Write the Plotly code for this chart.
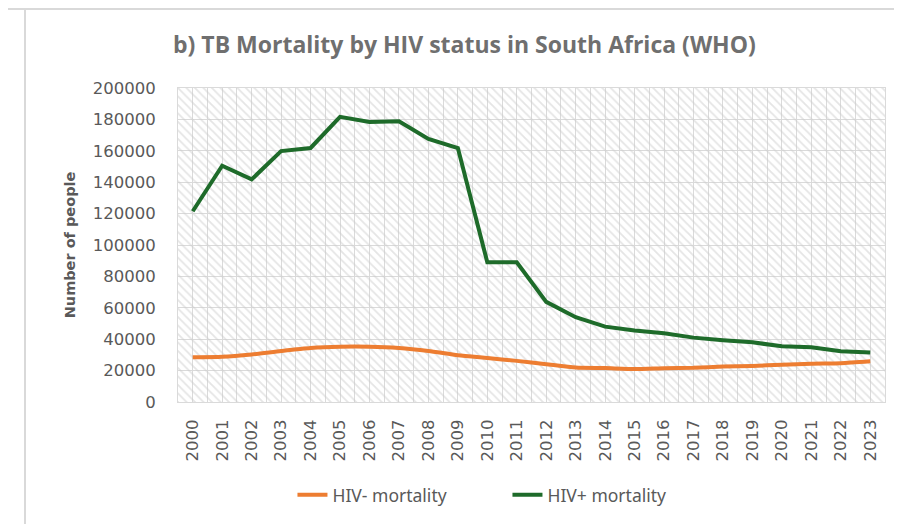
import plotly.graph_objects as go

years = list(range(2000, 2024))
year_labels = [str(y) for y in years]

# HIV- TB deaths (orange line)
hiv_neg = [28500, 28800, 30300, 32500, 34400, 35200, 35200, 34400, 32500, 29800,
           28000, 26200, 24100, 22000, 21600, 21000, 21500, 21800, 22600, 23000,
           23800, 24400, 24700, 25900]
# HIV+ TB deaths (green line)
hiv_pos = [121500, 150500, 141800, 159800, 161800, 181600, 178400, 178800, 167600, 161800,
           89000, 89000, 63800, 54000, 48000, 45500, 43800, 41000, 39400, 38000,
           35500, 34800, 32300, 31600]

y_ticks = list(range(0, 200001, 20000))

grey = '#595959'
fig = go.Figure()

# hatched plot area background
fig.add_trace(go.Bar(x=[(years[0] + years[-1]) / 2], y=[y_ticks[-1]],
                     width=[len(years)],
                     marker=dict(color='rgba(0,0,0,0)', line_width=0,
                                 pattern=dict(shape='\\', fgcolor='#cbcbcb',
                                              size=6, solidity=0.3)),
                     showlegend=False, hoverinfo='skip'))

fig.add_trace(go.Scatter(x=years, y=hiv_neg, mode='lines', name='HIV- mortality',
                         line=dict(color='#ED7D31', width=4, shape='spline', smoothing=0.6)))
fig.add_trace(go.Scatter(x=years, y=hiv_pos, mode='lines', name='HIV+ mortality',
                         line=dict(color='#1E6B2A', width=4)))

# note: the page body has an 8px margin, so everything is laid out 8px up/left
fig.update_layout(
    width=902, height=524,
    margin=dict(l=170, r=25, t=80, b=130),
    paper_bgcolor='white', plot_bgcolor='white',
    title=dict(text='<b>b) TB Mortality by HIV status in South Africa (WHO)</b>',
               x=0.506, xanchor='center', y=0.929, yanchor='middle',
               font=dict(family='Open Sans', size=23, color='#6f6f6f')),
    font=dict(family='DejaVu Sans', color=grey),
    legend=dict(orientation='h', x=0.466, xanchor='center', y=-0.296, yanchor='middle',
                font=dict(family='Noto Sans', size=17.5, color=grey),
                entrywidth=170, entrywidthmode='pixels'),
    showlegend=True,
)

fig.update_xaxes(
    range=[years[0] - 0.5, years[-1] + 0.5],
    tickmode='array', tickvals=years, ticktext=year_labels, tickangle=-90,
    tickfont=dict(family='DejaVu Sans', size=16.5, color=grey),
    showgrid=True, gridcolor='#dadada', gridwidth=1,
    minor=dict(tickvals=[y + 0.5 for y in years[:-1]], showgrid=True,
               gridcolor='#dadada', gridwidth=1),
    showline=True, linecolor='#dadada', linewidth=1, mirror=True,
    ticks='', zeroline=False, ticklabelstandoff=10,
)
fig.update_yaxes(
    range=[0, 200000], tickmode='array', tickvals=y_ticks,
    ticktext=[str(v) for v in y_ticks],
    tickfont=dict(family='DejaVu Sans', size=16.5, color=grey),
    showgrid=True, gridcolor='#dadada', gridwidth=1,
    showline=True, linecolor='#dadada', linewidth=1, mirror=True,
    ticks='', zeroline=False, ticklabelstandoff=18,
    title=dict(text='<b>Number of people</b>', standoff=13,
               font=dict(family='DejaVu Sans', size=14.5, color=grey)),
)

# chart frame lines visible in the screenshot
fig.add_shape(type='line', xref='paper', yref='paper', x0=-0.26, x1=1.05,
              y0=1.2516, y1=1.2516, line=dict(color='#d9d9d9', width=2))
fig.add_shape(type='line', xref='paper', yref='paper', x0=-0.2164, x1=-0.2164,
              y0=1.2516, y1=-0.45, line=dict(color='#d9d9d9', width=2))

fig.write_html('out.html')
